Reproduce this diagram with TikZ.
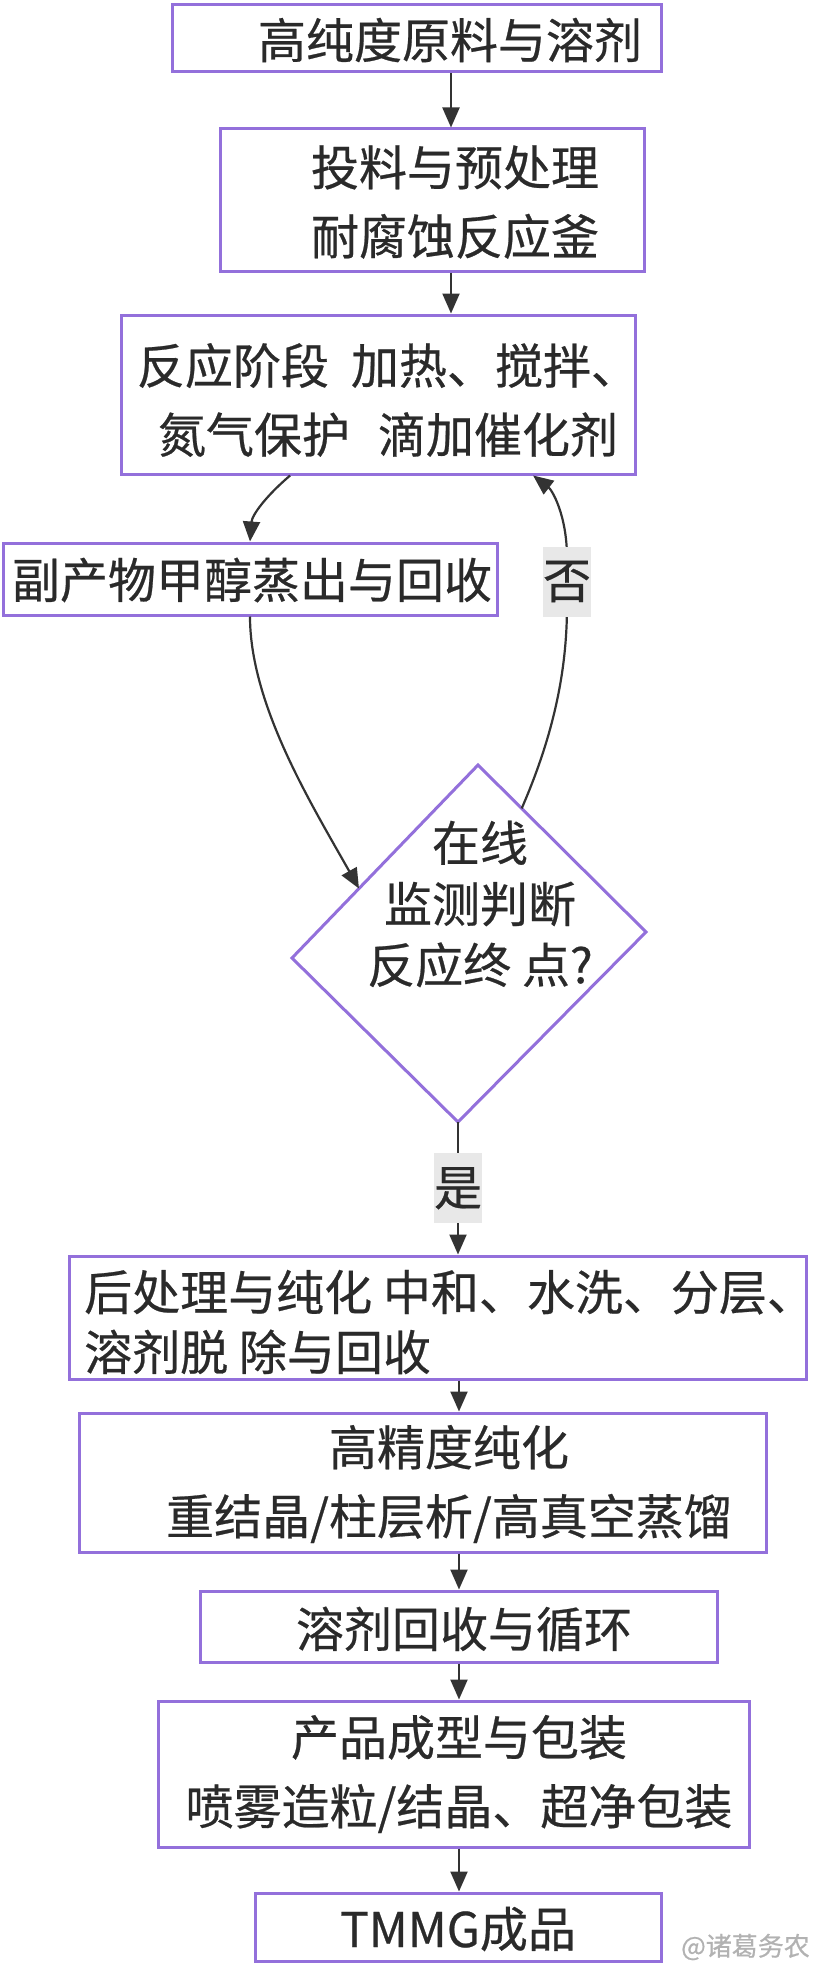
\documentclass[tikz,border=0pt]{standalone}
\usepackage{fontspec}
\setmainfont{Noto Sans CJK SC}[FakeBold=0.5]
\usetikzlibrary{arrows.meta,calc}
\definecolor{boxline}{HTML}{9370DB}
\definecolor{arrcol}{HTML}{333333}
\definecolor{lblbg}{HTML}{E8E8E8}
\definecolor{txtcol}{HTML}{2A2A2A}
\begin{document}
\begin{tikzpicture}[x=1pt,y=-1pt,
  box/.style={draw=boxline, line width=3pt, fill=white, inner sep=0pt, rectangle},
  txt/.style={font=\fontsize{48}{69}\selectfont, text=txtcol, align=center, inner sep=0pt},
  arr/.style={draw=arrcol, line width=2.2pt, -{Triangle[length=20pt,width=17pt]}},
  lbl/.style={fill=lblbg, font=\fontsize{48}{58}\selectfont, inner sep=0pt, minimum width=46pt, minimum height=70pt, text=txtcol},
  wm/.style={font=\fontsize{26}{30}\selectfont, text=black!30, inner sep=0pt}
]
\useasboundingbox (0,0) rectangle (824,1980);
\fill[white] (0,0) rectangle (824,1980);

% boxes
\node[box, minimum width=489pt, minimum height=67pt]  (b1) at (416.5,38.5) {};
\node[box, minimum width=424pt, minimum height=142pt] (b2) at (432,200) {};
\node[box, minimum width=514pt, minimum height=159pt] (b3) at (378,394.5) {};
\node[box, minimum width=494pt, minimum height=72pt]  (b4) at (250,579) {};
\node[box, minimum width=737pt, minimum height=123pt] (b5) at (437.5,1317.5) {};
\node[box, minimum width=687pt, minimum height=139pt] (b6) at (422.5,1482.5) {};
\node[box, minimum width=517pt, minimum height=71pt]  (b7) at (458.5,1626.5) {};
\node[box, minimum width=591pt, minimum height=146pt] (b8) at (453.5,1774) {};
\node[box, minimum width=406pt, minimum height=68pt]  (b9) at (458,1927) {};

% diamond
\coordinate (dt) at (478,765);
\coordinate (dr) at (646,932);
\coordinate (db) at (458,1122);
\coordinate (dl) at (292,958);
\draw[draw=boxline, line width=3pt, fill=white] (dt) -- (dr) -- (db) -- (dl) -- cycle;

% texts
\node[txt] (t1) at (450,40) {高纯度原料与溶剂};
\node[txt] (t2) at (455,202) {投料与预处理\\耐腐蚀反应釜};
\node[txt] (t3) at (388,400) {反应阶段\hspace{22pt}加热、搅拌、\\氮气保护\hspace{28pt}滴加催化剂};
\node[txt] (t4) at (252,580) {副产物甲醇蒸出与回收};
\node[txt, font=\fontsize{48}{61}\selectfont] (td) at (480,904) {在线\\监测判断\\反应终 点?};
\node[txt, align=left, anchor=west, font=\fontsize{48}{60}\selectfont] (t5) at (84,1322) {后处理与纯化 中和、水洗、分层、\\溶剂脱 除与回收};
\node[txt] (t6) at (449,1484) {高精度纯化\\重结晶/柱层析/高真空蒸馏};
\node[txt] (t7) at (464,1629) {溶剂回收与循环};
\node[txt] (t8) at (459,1774) {产品成型与包装\\喷雾造粒/结晶、超净包装};
\node[txt] (t9) at (458,1929) {TMMG成品};

% connectors
\coordinate (ax1) at (451,0);
\coordinate (ax) at (459,0);
\draw[arr] (b1.south -| ax1) -- (b2.north -| ax1);
\draw[arr] (b2.south -| ax1) -- (b3.north -| ax1);
\draw[arr] ($(b3.south west)!0.33!(b3.south east)$) .. controls (266,496) and (252,515) .. (b4.north);
\draw[arr] (b4.south) .. controls (250,705) and (312,805) .. ($(dl)!0.36!(dt)$);
\draw[arr] ($(dt)!0.26!(dr)$) .. controls (558,725) and (567,660) .. (567,605) -- node[lbl] (lno) {否} (567,558) .. controls (567,515) and (552,490) .. ($(b3.south west)!0.8!(b3.south east)$);
\draw[arr] (db) -- node[lbl] (lyes) {是} (b5.north -| db);
\draw[arr] (b5.south -| ax) -- (b6.north -| ax);
\draw[arr] (b6.south -| ax) -- (b7.north -| ax);
\draw[arr] (b7.south -| ax) -- (b8.north -| ax);
\draw[arr] (b8.south -| ax) -- (b9.north -| ax);

% watermark
\node[wm, anchor=east] (wmk) at (810,1947) {@诸葛务农};
\end{tikzpicture}
\end{document}
